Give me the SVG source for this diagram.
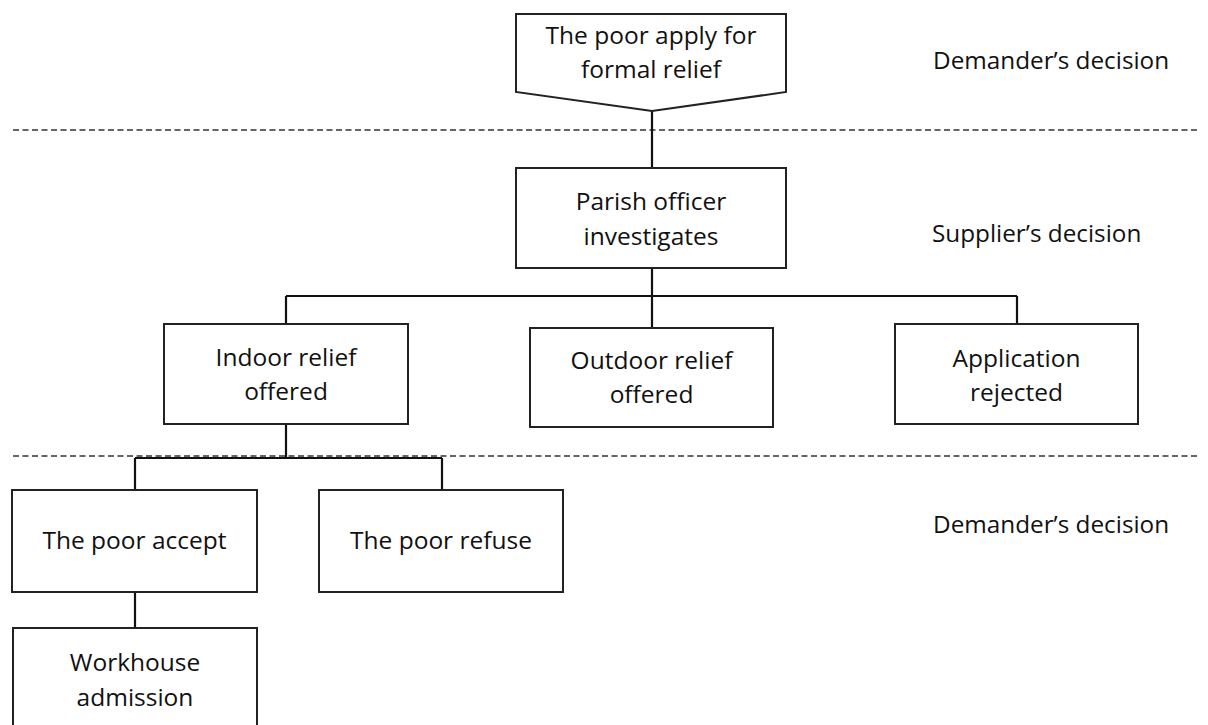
<svg xmlns="http://www.w3.org/2000/svg" width="1208" height="725" viewBox="0 0 1208 725">
<style>
.box{fill:#fff;stroke:#222;stroke-width:2}
.t{font-family:"Open Sans","Liberation Sans",sans-serif;font-size:24.5px;fill:#111;text-anchor:middle}
.lbl{font-family:"Open Sans","Liberation Sans",sans-serif;font-size:24.3px;fill:#111}
.dash{stroke:#333;stroke-width:1.7;stroke-dasharray:6 3.5;fill:none}
.con{stroke:#111;stroke-width:2.2;fill:none}
</style>
<rect width="1208" height="725" fill="#fff"/>
<g id="dividers">
<line class="dash" x1="13" y1="130" x2="1198" y2="130"/>
<line class="dash" x1="13" y1="456" x2="1198" y2="456"/>
</g>
<g id="connectors">
<line class="con" x1="652" y1="111" x2="652" y2="168"/>
<line class="con" x1="652" y1="268" x2="652" y2="296"/>
<line class="con" x1="286" y1="296" x2="1017" y2="296"/>
<line class="con" x1="286" y1="296" x2="286" y2="324"/>
<line class="con" x1="652" y1="296" x2="652" y2="328"/>
<line class="con" x1="1017" y1="296" x2="1017" y2="324"/>
<line class="con" x1="286" y1="424" x2="286" y2="458"/>
<line class="con" x1="135" y1="458" x2="442" y2="458"/>
<line class="con" x1="135" y1="458" x2="135" y2="490"/>
<line class="con" x1="442" y1="458" x2="442" y2="490"/>
<line class="con" x1="135" y1="592" x2="135" y2="628"/>
</g>
<g id="apply">
<polygon class="box" points="516,14 786,14 786,92 652,111 516,92"/>
<text class="t" x="651" y="44">The poor apply for</text>
<text class="t" x="651" y="78">formal relief</text>
</g>
<g id="parish">
<rect class="box" x="516" y="168" width="270" height="100"/>
<text class="t" x="651" y="210">Parish officer</text>
<text class="t" x="651" y="245">investigates</text>
</g>
<g id="indoor">
<rect class="box" x="164" y="324" width="244" height="100"/>
<text class="t" x="286" y="366">Indoor relief</text>
<text class="t" x="286" y="400">offered</text>
</g>
<g id="outdoor">
<rect class="box" x="530" y="328" width="243" height="99"/>
<text class="t" x="651.5" y="369">Outdoor relief</text>
<text class="t" x="651.5" y="403">offered</text>
</g>
<g id="rejected">
<rect class="box" x="895" y="324" width="243" height="100"/>
<text class="t" x="1016.5" y="367">Application</text>
<text class="t" x="1016.5" y="401">rejected</text>
</g>
<g id="accept">
<rect class="box" x="12" y="490" width="245" height="102"/>
<text class="t" x="134.5" y="549">The poor accept</text>
</g>
<g id="refuse">
<rect class="box" x="319" y="490" width="244" height="102"/>
<text class="t" x="441" y="549">The poor refuse</text>
</g>
<g id="workhouse">
<rect class="box" x="13" y="628" width="244" height="110"/>
<text class="t" x="135" y="671">Workhouse</text>
<text class="t" x="135" y="706">admission</text>
</g>
<g id="labels">
<text class="lbl" x="933" y="69">Demander’s decision</text>
<text class="lbl" x="932" y="242">Supplier’s decision</text>
<text class="lbl" x="933" y="533">Demander’s decision</text>
</g>
</svg>
